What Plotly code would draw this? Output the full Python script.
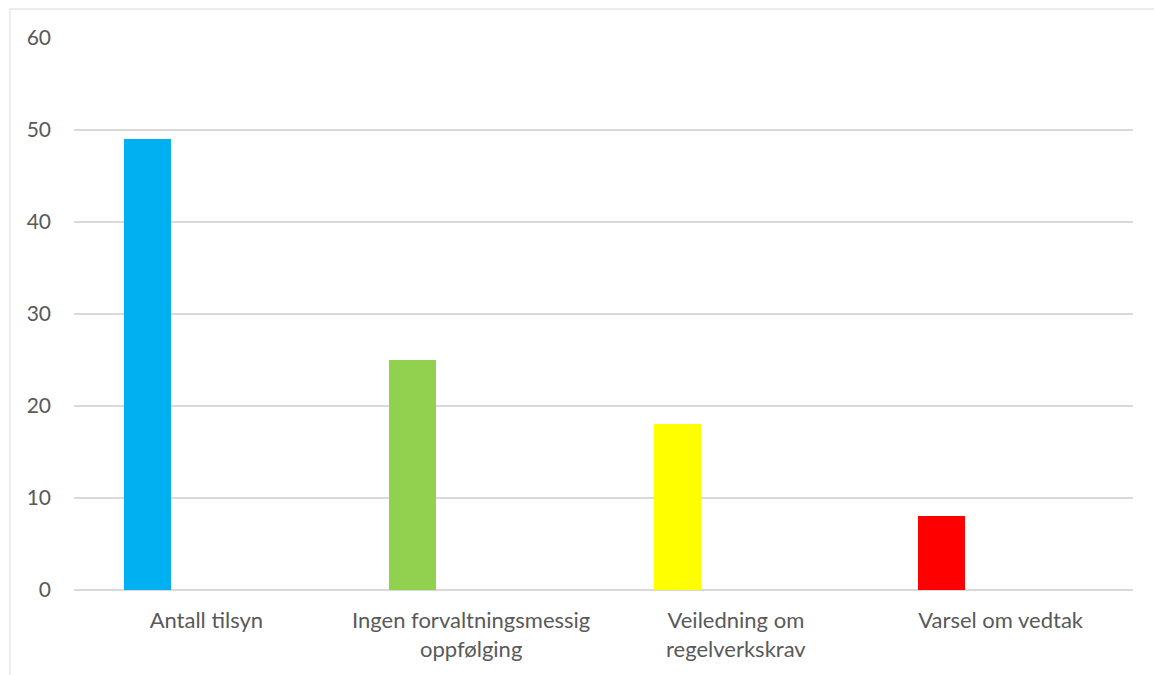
import plotly.graph_objects as go

categories = ["Antall tilsyn", "Ingen forvaltningsmessig<br>oppfølging", "Veiledning om<br>regelverkskrav", "Varsel om vedtak"]
values = [49, 25, 18, 8]
colors = ["#00B0F0", "#92D050", "#FFFF00", "#FF0000"]
y_ticks = [0, 10, 20, 30, 40, 50, 60]

W, H = 1154, 675
ml, mr, mt, mb = 74, 21, 38, 85
pw, ph = W - ml - mr, H - mt - mb

fig = go.Figure()
fig.add_trace(go.Bar(
    x=categories, y=values,
    marker=dict(color=colors, line=dict(width=0)),
    width=0.178, offset=-0.311,
    showlegend=False,
))

def px_x(p):
    return (p - ml) / pw

def px_y(p):
    return (H - mb - p) / ph

fig.add_shape(type="rect", xref="paper", yref="paper",
              x0=px_x(10), x1=px_x(1200), y0=px_y(9), y1=px_y(700),
              line=dict(color="#d9d9d9", width=1), fillcolor="rgba(0,0,0,0)", layer="below")

fig.update_layout(
    width=W, height=H,
    margin=dict(l=ml, r=mr, t=mt, b=mb),
    paper_bgcolor="white", plot_bgcolor="white",
    font=dict(family="Lato", size=21, color="#595959"),
    bargap=0,
)
fig.update_xaxes(showgrid=False, showline=False, ticks="", ticklabelstandoff=15,
                 tickfont=dict(size=22, color="#595959"))
fig.update_yaxes(range=[0, 60], tickvals=y_ticks, showgrid=True, gridcolor="#d9d9d9", gridwidth=1.5,
                 zeroline=True, zerolinecolor="#d9d9d9", zerolinewidth=1.5,
                 ticks="", ticklabelstandoff=22, tickfont=dict(size=21, color="#595959"))

fig.write_html("out.html")
